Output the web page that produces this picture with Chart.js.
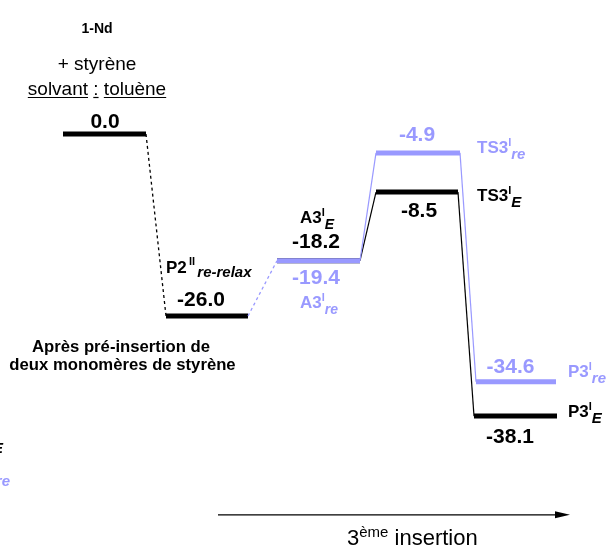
<!DOCTYPE html>
<html>
<head>
<meta charset="utf-8">
<script src="https://cdn.jsdelivr.net/npm/chart.js@4.4.0/dist/chart.umd.min.js"></script>
<style>
html, body { margin: 0; padding: 0; background: #fff; }
canvas { display: block; }
</style>
</head>
<body>
<canvas id="chart" width="609" height="547"></canvas>
<script>
const BLUE = '#9999ff';
const BLACK = '#000000';
const FONT = "'Liberation Sans', Arial, sans-serif";

// energies printed on the diagram (kcal/mol)
const stages = ['1-Nd', 'P2', 'A3', 'TS3', 'P3'];
const energyE = [0.0, -26.0, -18.2, -8.5, -38.1];
const energyRe = [null, null, -19.4, -4.9, -34.6];

// height at which each level is drawn (the figure is not exactly to scale)
const levelE = [0, -26.0, -18.1, -8.3, -40.3];
const levelRe = [null, null, -18.1, -2.7, -35.4];

// reaction coordinate: start / end of each level
const startE = [0.63, 1.66, 2.77, 3.76, 4.74];
const endE = [1.46, 2.48, 3.60, 4.58, 5.57];
const startRe = [null, null, 2.77, 3.76, 4.76];
const endRe = [null, null, 3.60, 4.60, 5.56];

// reaction coordinate arrow
const arrowX = [2.18, 5.70];
const arrowY = -54.4;

function seg(x1, y1, x2, y2, color, width, dash) {
    return {
        data: [{ x: x1, y: y1 }, { x: x2, y: y2 }],
        borderColor: color,
        borderWidth: width,
        borderDash: dash || [],
        borderCapStyle: 'butt',
        showLine: true,
        pointRadius: 0,
        pointHoverRadius: 0
    };
}

const datasets = [];
// blue (re) path first so it is drawn on top
for (let i = 0; i < stages.length; i++) {
    if (levelRe[i] === null) continue;
    datasets.push(seg(startRe[i], levelRe[i], endRe[i], levelRe[i], BLUE, 5));
}
datasets.push(seg(endE[1], levelE[1], startRe[2], levelRe[2], BLUE, 1.3, [3, 3]));
datasets.push(seg(endRe[2], levelRe[2], startRe[3], levelRe[3], BLUE, 1.2));
datasets.push(seg(endRe[3], levelRe[3], startRe[4], levelRe[4], BLUE, 1.2));

// black (E) path
for (let i = 0; i < stages.length; i++) {
    datasets.push(seg(startE[i], levelE[i], endE[i], levelE[i], BLACK, 5));
}
datasets.push(seg(endE[0], levelE[0], startE[1], levelE[1], BLACK, 1.3, [3, 3]));
datasets.push(seg(endE[2], levelE[2], startE[3], levelE[3], BLACK, 1.2));
datasets.push(seg(endE[3], levelE[3], startE[4], levelE[4], BLACK, 1.2));

// arrow
datasets.push(seg(arrowX[0], arrowY, arrowX[1] - 0.1, arrowY, BLACK, 1.2));

const fmt = v => v.toFixed(1);

function bold(sz) { return 'bold ' + sz + 'px ' + FONT; }
function boldIt(sz) { return 'italic bold ' + sz + 'px ' + FONT; }
function norm(sz) { return sz + 'px ' + FONT; }

const mid = (a, b) => (a + b) / 2;

// text items: anchor (data units) + pixel offset, parts = [text, font, baseline shift]
const texts = [
    { x: mid(startE[0], endE[0]), y: levelE[0], dx: -7.5, dy: -101, align: 'center', color: BLACK, parts: [[stages[0], bold(14), 0]] },
    { x: mid(startE[0], endE[0]), y: levelE[0], dx: -7.5, dy: -64, align: 'center', color: BLACK, parts: [['+ styrène', norm(19), 0]] },
    { x: mid(startE[0], endE[0]), y: levelE[0], dx: -7.5, dy: -39, align: 'center', color: BLACK, underline: true, parts: [['solvant', norm(19), 0], [' ', norm(19), 0], [':', norm(19), 0], [' ', norm(19), 0], ['toluène', norm(19), 0]] },
    { x: mid(startE[0], endE[0]), y: levelE[0], dx: 0.5, dy: -6, align: 'center', color: BLACK, parts: [[fmt(energyE[0]), bold(21), 0]] },

    { x: startE[1], y: levelE[1], dx: 0, dy: -43, align: 'left', color: BLACK, parts: [[stages[1], bold(17), 0], ['\u2009', bold(11), 0], ['II', bold(11), -8], ['\u2009', bold(11), 0], ['re-relax', boldIt(15), 4]] },
    { x: mid(startE[1], endE[1]), y: levelE[1], dx: -6, dy: -10, align: 'center', color: BLACK, parts: [[fmt(energyE[1]), bold(21), 0]] },
    { x: mid(startE[1], endE[1]), y: levelE[1], dx: -86, dy: 36, align: 'center', color: BLACK, parts: [['Après pré-insertion de', bold(16.7), 0]] },
    { x: mid(startE[1], endE[1]), y: levelE[1], dx: -84.5, dy: 54, align: 'center', color: BLACK, parts: [['deux monomères de styrène', bold(16.7), 0]] },

    { x: mid(startE[2], endE[2]), y: levelE[2], dx: -1.5, dy: -38, align: 'center', color: BLACK, parts: [[stages[2], bold(17), 0], ['I', bold(11), -7], ['E', boldIt(14), 6]] },
    { x: mid(startE[2], endE[2]), y: levelE[2], dx: -2.5, dy: -13, align: 'center', color: BLACK, parts: [[fmt(energyE[2]), bold(21), 0]] },
    { x: mid(startRe[2], endRe[2]), y: levelRe[2], dx: -2.5, dy: 23, align: 'center', color: BLUE, parts: [[fmt(energyRe[2]), bold(21), 0]] },
    { x: mid(startRe[2], endRe[2]), y: levelRe[2], dx: 0.5, dy: 47, align: 'center', color: BLUE, parts: [[stages[2], bold(17), 0], ['I', bold(11), -7], ['re', boldIt(14), 6]] },

    { x: mid(startRe[3], endRe[3]), y: levelRe[3], dx: -1, dy: -12, align: 'center', color: BLUE, parts: [[fmt(energyRe[3]), bold(21), 0]] },
    { x: endRe[3], y: levelRe[3], dx: 17, dy: 0, align: 'left', color: BLUE, parts: [[stages[3], bold(17), 0], ['I', bold(11), -7], ['re', boldIt(15), 6]] },
    { x: endE[3], y: levelE[3], dx: 19, dy: 9, align: 'left', color: BLACK, parts: [[stages[3], bold(17), 0], ['I', bold(11), -7], ['E', boldIt(15), 6]] },
    { x: mid(startE[3], endE[3]), y: levelE[3], dx: 2, dy: 25, align: 'center', color: BLACK, parts: [[fmt(energyE[3]), bold(21), 0]] },

    { x: mid(startRe[4], endRe[4]), y: levelRe[4], dx: -5.5, dy: -9, align: 'center', color: BLUE, parts: [[fmt(energyRe[4]), bold(21), 0]] },
    { x: endRe[4], y: levelRe[4], dx: 12, dy: -5, align: 'left', color: BLUE, parts: [[stages[4], bold(17), 0], ['I', bold(11), -7], ['re', boldIt(15), 6]] },
    { x: endE[4], y: levelE[4], dx: 11, dy: 1, align: 'left', color: BLACK, parts: [[stages[4], bold(17), 0], ['I', bold(11), -7], ['E', boldIt(15), 6]] },
    { x: mid(startE[4], endE[4]), y: levelE[4], dx: -5.5, dy: 27, align: 'center', color: BLACK, parts: [[fmt(energyE[4]), bold(21), 0]] },

    // labels cut by the left border
    { x: 0, y: levelE[4], dx: 3, dy: 37, align: 'right', color: BLACK, parts: [['E', boldIt(15), 0]] },
    { x: 0, y: levelE[4], dx: 10, dy: 70, align: 'right', color: BLUE, parts: [['re', boldIt(15), 0]] },

    { x: arrowX[0], y: arrowY, dx: 129, dy: 30, align: 'left', color: BLACK, parts: [['3', norm(22), 0], ['ème', norm(15), -8], [' insertion', norm(22), 0]] }
];

function drawRich(ctx, t, px, py) {
    let total = 0;
    const widths = t.parts.map(p => {
        ctx.font = p[1];
        const w = ctx.measureText(p[0]).width;
        total += w;
        return w;
    });
    let x = px;
    if (t.align === 'center') x = px - total / 2;
    if (t.align === 'right') x = px - total;
    ctx.fillStyle = t.color;
    ctx.strokeStyle = t.color;
    t.parts.forEach((p, i) => {
        ctx.font = p[1];
        ctx.fillText(p[0], x, py + p[2]);
        if (t.underline && p[0].trim() !== '') {
            ctx.lineWidth = 1.2;
            ctx.beginPath();
            ctx.moveTo(x, py + 2.5);
            ctx.lineTo(x + widths[i], py + 2.5);
            ctx.stroke();
        }
        x += widths[i];
    });
}

const textPlugin = {
    id: 'diagramText',
    afterDatasetsDraw(chart) {
        const ctx = chart.ctx;
        const xs = chart.scales.x;
        const ys = chart.scales.y;
        ctx.save();
        ctx.textBaseline = 'alphabetic';
        ctx.textAlign = 'left';
        texts.forEach(t => {
            drawRich(ctx, t, xs.getPixelForValue(t.x) + t.dx, ys.getPixelForValue(t.y) + t.dy);
        });
        // arrow head
        const tipX = xs.getPixelForValue(arrowX[1]);
        const ay = ys.getPixelForValue(arrowY);
        ctx.fillStyle = BLACK;
        ctx.beginPath();
        ctx.moveTo(tipX, ay);
        ctx.lineTo(tipX - 15, ay - 3.5);
        ctx.lineTo(tipX - 15, ay + 3.5);
        ctx.closePath();
        ctx.fill();
        ctx.restore();
    }
};

new Chart(document.getElementById('chart'), {
    type: 'scatter',
    data: { datasets: datasets },
    options: {
        responsive: false,
        animation: false,
        events: [],
        layout: { padding: 0 },
        plugins: { legend: { display: false }, tooltip: { enabled: false } },
        scales: {
            x: { type: 'linear', display: false, min: 0, max: 6.09 },
            y: { type: 'linear', display: false, min: -59, max: 134 / 7 }
        }
    },
    plugins: [textPlugin]
});
</script>
</body>
</html>
